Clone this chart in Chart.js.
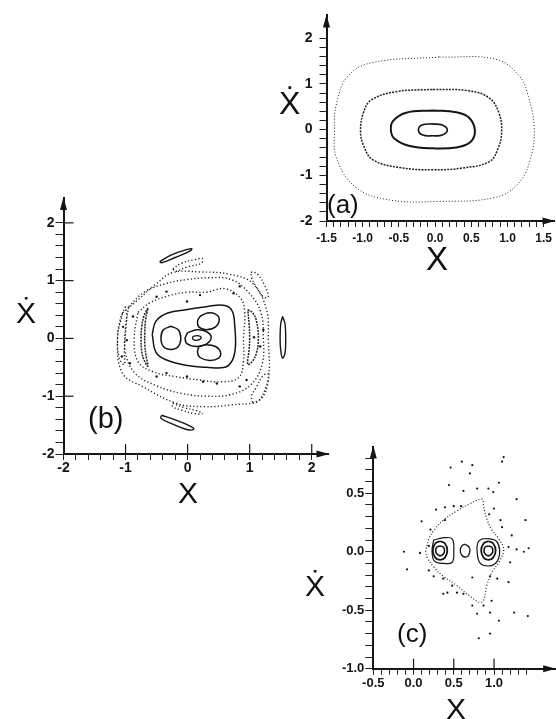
<!DOCTYPE html>
<html>
<head>
<meta charset="utf-8">
<script src="https://cdn.jsdelivr.net/npm/chart.js@4.4.1/dist/chart.umd.min.js"></script>
<style>
  html, body { margin: 0; padding: 0; background: #fff; }
  body { width: 556px; height: 719px; position: relative; overflow: hidden; font-family: "Liberation Sans", Arial, sans-serif; color: #111; }
  canvas { position: absolute; }
  .lbl { position: absolute; line-height: 1; white-space: nowrap; }
</style>
</head>
<body>
<canvas id="chartA" width="280" height="250" style="left:276px;top:0px"></canvas>
<canvas id="chartB" width="340" height="310" style="left:0px;top:180px"></canvas>
<canvas id="chartC" width="266" height="289" style="left:290px;top:430px"></canvas>

<div class="lbl" style="left:327px;top:191px;font-size:26px">(a)</div>
<div class="lbl" style="left:279px;top:87px;font-size:32px">Ẋ</div>
<div class="lbl" style="left:426px;top:242px;font-size:33px">X</div>

<div class="lbl" style="left:88px;top:404px;font-size:29px">(b)</div>
<div class="lbl" style="left:16px;top:298px;font-size:30px">Ẋ</div>
<div class="lbl" style="left:178px;top:478px;font-size:30px">X</div>

<div class="lbl" style="left:397px;top:620px;font-size:26px">(c)</div>
<div class="lbl" style="left:305px;top:571px;font-size:30px">Ẋ</div>
<div class="lbl" style="left:446px;top:694px;font-size:30px">X</div>

<script>
// ---- panel (a): tick labels ----
const aXTicks = [-1.5, -1.0, -0.5, 0.0, 0.5, 1.0, 1.5];
const aXLabels = ['-1.5', '-1.0', '-0.5', '0.0', '0.5', '1.0', '1.5'];
const aYTicks = [-2, -1, 0, 1, 2];
const aYLabels = ['-2', '-1', '0', '1', '2'];

// panel (a) orbits
const aOrbit1 = [[-0.03,0.125],[0.10,0.10],[0.17,-0.01],[0.10,-0.12],[-0.03,-0.135],[-0.17,-0.12],[-0.23,-0.01],[-0.18,0.10],[-0.03,0.125]];
const aOrbit2 = [[-0.03,0.42],[0.29,0.38],[0.47,0.26],[0.55,-0.02],[0.49,-0.27],[0.29,-0.39],[-0.03,-0.41],[-0.35,-0.36],[-0.56,-0.20],[-0.61,-0.02],[-0.58,0.19],[-0.40,0.37],[-0.03,0.42]];
const aOrbit3 = [[-0.03,0.88],[0.47,0.85],[0.75,0.69],[0.88,0.37],[0.92,-0.02],[0.87,-0.41],[0.75,-0.70],[0.38,-0.84],[-0.03,-0.88],[-0.49,-0.83],[-0.86,-0.66],[-0.99,-0.34],[-1.03,-0.02],[-0.99,0.37],[-0.88,0.65],[-0.54,0.83],[-0.03,0.88]];
const aOrbit4 = [[0.06,1.59],[0.84,1.54],[1.16,1.18],[1.29,0.72],[1.37,0.01],[1.32,-0.63],[1.16,-1.16],[0.84,-1.48],[0.06,-1.57],[-0.63,-1.54],[-1.09,-1.27],[-1.36,-0.63],[-1.39,0.01],[-1.36,0.58],[-1.20,1.18],[-0.86,1.47],[0.06,1.59]];

// ---- panel (b): tick labels ----
const bXTicks = [-2, -1, 0, 1, 2];
const bXLabels = ['-2', '-1', '0', '1', '2'];
const bYTicks = [-2, -1, 0, 1, 2];
const bYLabels = ['-2', '-1', '0', '1', '2'];

// panel (b) regular orbits
const bCore = [[-0.57,0.07],[-0.51,0.30],[-0.32,0.44],[0.0,0.50],[0.30,0.55],[0.60,0.57],[0.72,0.47],[0.76,0.20],[0.77,-0.15],[0.72,-0.38],[0.60,-0.50],[0.30,-0.50],[0.0,-0.47],[-0.35,-0.37],[-0.51,-0.24],[-0.57,0.07]];
const bIslandL = [[-0.27,0.21],[-0.15,0.15],[-0.11,0.01],[-0.15,-0.14],[-0.27,-0.19],[-0.39,-0.14],[-0.43,0.01],[-0.39,0.15],[-0.27,0.21]];
const bIslandU = [[0.20,0.38],[0.32,0.44],[0.45,0.42],[0.51,0.33],[0.45,0.20],[0.30,0.15],[0.18,0.20],[0.16,0.30],[0.20,0.38]];
const bIslandD = [[0.18,-0.14],[0.30,-0.11],[0.45,-0.14],[0.53,-0.24],[0.50,-0.34],[0.35,-0.38],[0.20,-0.33],[0.16,-0.24],[0.18,-0.14]];
const bLoop = [[0.0,0.10],[0.15,0.15],[0.30,0.12],[0.38,0.02],[0.30,-0.10],[0.15,-0.14],[0.0,-0.10],[-0.04,0.0],[0.0,0.10]];
const bInner = [[0.08,0.03],[0.15,0.05],[0.22,0.02],[0.16,-0.03],[0.09,-0.02],[0.08,0.03]];
const bCresL = [[-0.64,0.53],[-0.70,0.40],[-0.74,0.20],[-0.75,0.0],[-0.74,-0.22],[-0.70,-0.38],[-0.64,-0.48],[-0.67,-0.30],[-0.69,-0.10],[-0.69,0.10],[-0.68,0.30],[-0.64,0.53]];
const bCresR = [[0.97,0.50],[1.05,0.44],[1.11,0.30],[1.14,0.0],[1.11,-0.25],[1.04,-0.40],[0.97,-0.45],[0.99,-0.20],[1.0,0.0],[0.99,0.25],[0.97,0.50]];
const bOutT = [[-0.45,1.33],[-0.25,1.45],[0.0,1.54],[0.07,1.55],[0.02,1.50],[-0.20,1.40],[-0.42,1.31],[-0.45,1.33]];
const bOutR = [[1.53,0.38],[1.57,0.25],[1.58,0.0],[1.57,-0.25],[1.53,-0.34],[1.50,-0.20],[1.49,0.0],[1.50,0.25],[1.53,0.38]];
const bOutB = [[-0.42,-1.33],[-0.20,-1.41],[0.05,-1.52],[0.10,-1.57],[0.0,-1.58],[-0.25,-1.48],[-0.43,-1.38],[-0.42,-1.33]];

// panel (b) chaotic dotted layers
const bRing1 = [[-0.80,0.45],[-0.60,0.62],[-0.30,0.74],[0.0,0.80],[0.30,0.80],[0.60,0.86],[0.85,0.70],[0.92,0.45],[0.90,0.0],[0.90,-0.40],[0.82,-0.68],[0.55,-0.75],[0.20,-0.72],[-0.20,-0.66],[-0.55,-0.58],[-0.80,-0.40],[-0.86,0.0],[-0.80,0.45]];
const bRing2 = [[-0.95,0.55],[-0.70,0.80],[-0.35,0.95],[0.0,1.02],[0.35,1.05],[0.70,1.02],[0.98,0.80],[1.18,0.45],[1.22,0.0],[1.20,-0.45],[1.02,-0.80],[0.70,-0.97],[0.30,-1.0],[-0.10,-0.95],[-0.50,-0.82],[-0.85,-0.60],[-1.0,-0.25],[-1.0,0.20],[-0.95,0.55]];
const bRing3 = [[-1.05,0.44],[-0.83,0.64],[-0.50,0.95],[-0.24,1.14],[0.20,1.15],[0.68,1.11],[1.05,0.95],[1.27,0.50],[1.30,0.0],[1.30,-0.71],[1.16,-1.06],[0.70,-1.15],[0.24,-1.18],[-0.19,-1.12],[-0.73,-0.83],[-1.05,-0.60],[-1.13,-0.02],[-1.05,0.44]];
const bChainT = [[-0.24,1.20],[-0.10,1.30],[0.10,1.36],[0.24,1.38],[0.22,1.30],[0.0,1.24],[-0.20,1.16],[-0.24,1.20]];
const bChainUR = [[1.02,1.15],[1.12,1.12],[1.24,0.92],[1.30,0.72],[1.22,0.72],[1.10,0.90],[1.03,1.05],[1.02,1.15]];
const bChainLR = [[1.05,-1.12],[1.15,-1.08],[1.27,-0.82],[1.30,-0.62],[1.22,-0.64],[1.10,-0.86],[1.03,-1.0],[1.05,-1.12]];
const bChainB = [[-0.24,-1.12],[-0.05,-1.20],[0.15,-1.25],[0.24,-1.30],[0.10,-1.30],[-0.10,-1.24],[-0.24,-1.18],[-0.24,-1.12]];
const bChainL = [[-1.0,0.55],[-1.08,0.35],[-1.13,0.0],[-1.10,-0.35],[-1.02,-0.45],[-1.02,-0.20],[-1.0,0.10],[-0.98,0.40],[-1.0,0.55]];
const bDots = [[1.07,0.02],[-1.04,0.20],[-0.98,-0.03],[-1.06,-0.31],[-0.93,-0.43],[-0.50,0.72],[-0.34,0.81],[-0.01,0.64],[0.20,0.75],[0.74,0.78],[0.84,0.90],[0.95,-0.72],[0.84,-0.83],[-0.01,-0.66],[-0.34,-0.60],[-0.50,-0.66],[0.47,-0.78],[0.25,-0.75],[-0.88,0.38],[1.17,-0.14],[1.22,0.15]];

// ---- panel (c): tick labels ----
const cXTicks = [-0.5, 0.0, 0.5, 1.0];
const cXLabels = ['-0.5', '0.0', '0.5', '1.0'];
const cYTicks = [-1.0, -0.5, 0.0, 0.5];
const cYLabels = ['-1.0', '-0.5', '0.0', '0.5'];

// panel (c) orbits
const cSep = [[0.15,0.0],[0.19,0.11],[0.25,0.18],[0.37,0.27],[0.54,0.35],[0.70,0.41],[0.85,0.45],[0.87,0.39],[0.91,0.28],[0.97,0.19],[1.06,0.11],[1.12,0.02],[1.06,-0.09],[0.97,-0.18],[0.91,-0.29],[0.85,-0.43],[0.70,-0.38],[0.54,-0.29],[0.37,-0.21],[0.25,-0.13],[0.17,-0.05],[0.15,0.0]];
const cBoxL = [[0.25,0.10],[0.38,0.12],[0.48,0.11],[0.50,0.0],[0.48,-0.09],[0.38,-0.10],[0.26,-0.08],[0.23,0.01],[0.25,0.10]];
const cRingL1 = [[0.33,0.09],[0.39,0.07],[0.42,0.01],[0.39,-0.05],[0.33,-0.07],[0.27,-0.05],[0.24,0.01],[0.27,0.07],[0.33,0.09]];
const cRingL2 = [[0.33,0.05],[0.37,0.04],[0.385,0.01],[0.37,-0.02],[0.33,-0.035],[0.29,-0.02],[0.275,0.01],[0.29,0.04],[0.33,0.05]];
const cMid = [[0.64,0.065],[0.69,0.04],[0.70,0.01],[0.68,-0.035],[0.64,-0.045],[0.60,-0.03],[0.58,0.01],[0.60,0.05],[0.64,0.065]];
const cBoxR = [[0.85,0.11],[0.95,0.11],[1.03,0.09],[1.07,0.01],[1.04,-0.08],[0.95,-0.12],[0.83,-0.10],[0.79,0.0],[0.80,0.08],[0.85,0.11]];
const cRingR1 = [[0.93,0.09],[0.99,0.07],[1.02,0.01],[0.99,-0.05],[0.93,-0.07],[0.87,-0.05],[0.84,0.01],[0.87,0.07],[0.93,0.09]];
const cRingR2 = [[0.93,0.05],[0.97,0.04],[0.985,0.01],[0.97,-0.02],[0.93,-0.035],[0.89,-0.02],[0.875,0.01],[0.89,0.04],[0.93,0.05]];
const cDots = [[0.46,0.72],[0.60,0.77],[0.73,0.74],[1.10,0.77],[1.12,0.81],[0.70,0.67],[0.44,0.57],[0.79,0.54],[0.93,0.54],[0.99,0.51],[1.06,0.59],[0.62,0.52],[0.28,0.36],[0.39,0.38],[0.50,0.39],[0.59,0.39],[0.10,0.26],[0.21,0.19],[0.39,0.27],[0.94,0.32],[1.0,0.37],[1.08,0.27],[1.28,0.45],[1.39,0.27],[1.10,0.21],[1.22,0.14],[-0.12,0.0],[0.08,-0.01],[0.19,0.05],[1.18,0.04],[1.28,0.02],[1.37,0.0],[1.43,0.03],[-0.08,-0.15],[0.19,-0.16],[0.25,-0.21],[0.37,-0.23],[0.48,-0.29],[0.42,-0.35],[0.62,-0.36],[0.73,-0.22],[0.95,-0.21],[1.04,-0.23],[1.18,-0.26],[1.20,-0.09],[0.97,-0.42],[0.87,-0.46],[0.73,-0.46],[0.79,-0.53],[0.95,-0.52],[1.06,-0.59],[1.25,-0.52],[1.42,-0.55],[0.81,-0.74],[0.95,-0.70],[0.37,-0.36],[0.54,-0.35]];

const INK = '#151515';
const pts = arr => arr.map(([x, y]) => ({ x, y }));

function solid(arr, w) {
  return { data: pts(arr), showLine: true, borderColor: INK, borderWidth: w || 1.6, pointRadius: 0, tension: 0.4, fill: false };
}
function dotted(arr, w, dash) {
  return { data: pts(arr), showLine: true, borderColor: '#222', borderWidth: w || 1.4, borderDash: dash || [1.2, 2.3], pointRadius: 0, tension: 0.4, fill: false };
}
function dots(arr, r) {
  return { data: pts(arr), showLine: false, pointRadius: r || 1.1, pointBorderWidth: 0, pointBackgroundColor: INK };
}

function labelFor(values, labels) {
  return v => {
    for (let i = 0; i < values.length; i++) {
      if (Math.abs(v - values[i]) < 1e-6) return labels[i];
    }
    return '';
  };
}

function scale(o) {
  return {
    type: 'linear',
    min: o.min,
    max: o.max,
    afterBuildTicks: s => { s.ticks = s.ticks.filter(t => t.value >= o.lo - 1e-6 && t.value <= o.hi + 1e-6); },
    afterFit: s => { if (o.height !== undefined) s.height = o.height; if (o.width !== undefined) s.width = o.width; },
    ticks: {
      stepSize: o.step,
      includeBounds: false,
      autoSkip: false,
      maxRotation: 0,
      minRotation: 0,
      maxTicksLimit: 1000,
      padding: o.pad,
      color: INK,
      font: { family: '"Liberation Sans", Arial, sans-serif', size: o.size, weight: 'bold' },
      callback: labelFor(o.values, o.labels)
    },
    grid: { display: true, drawOnChartArea: false, drawTicks: true, tickLength: o.tick, color: '#222', lineWidth: 1 },
    border: { display: true, color: INK, width: 2 }
  };
}

const axisArrows = {
  id: 'axisArrows',
  afterDraw(chart, args, opts) {
    const { ctx, chartArea: a } = chart;
    ctx.save();
    ctx.fillStyle = INK;
    ctx.strokeStyle = INK;
    ctx.beginPath();
    ctx.moveTo(a.right + 1, a.bottom);
    ctx.lineTo(a.right - 12, a.bottom - 3.5);
    ctx.lineTo(a.right - 12, a.bottom + 3.5);
    ctx.closePath();
    ctx.fill();
    ctx.beginPath();
    ctx.moveTo(a.left, a.top - 1);
    ctx.lineTo(a.left - 3.5, a.top + 12);
    ctx.lineTo(a.left + 3.5, a.top + 12);
    ctx.closePath();
    ctx.fill();
    ctx.lineWidth = 1.2;
    (opts.xMajor || []).forEach(v => {
      const px = chart.scales.x.getPixelForValue(v);
      ctx.beginPath(); ctx.moveTo(px, a.bottom); ctx.lineTo(px, a.bottom - opts.len); ctx.stroke();
    });
    (opts.yMajor || []).forEach(v => {
      const py = chart.scales.y.getPixelForValue(v);
      ctx.beginPath(); ctx.moveTo(a.left, py); ctx.lineTo(a.left + opts.len, py); ctx.stroke();
    });
    ctx.restore();
  }
};

function makeChart(id, datasets, xs, ys, padding, arrows) {
  return new Chart(document.getElementById(id).getContext('2d'), {
    type: 'scatter',
    data: { datasets: datasets },
    options: {
      responsive: false,
      animation: false,
      devicePixelRatio: 1,
      layout: { padding: padding, autoPadding: false },
      plugins: { legend: { display: false }, tooltip: { enabled: false }, axisArrows: arrows },
      scales: { x: xs, y: ys }
    },
    plugins: [axisArrows]
  });
}

makeChart('chartA',
  [solid(aOrbit1, 1.6), solid(aOrbit2, 2), dotted(aOrbit3, 1.5, [2, 1.2]), dotted(aOrbit4, 1, [1, 2])],
  scale({ min: -1.5, max: 1.65, lo: -1.5, hi: 1.5, step: 0.1, values: aXTicks, labels: aXLabels, size: 12, pad: 4, tick: 6, height: 29 }),
  scale({ min: -2, max: 2.5, lo: -2, hi: 2, step: 0.2, values: aYTicks, labels: aYLabels, size: 14, pad: 7, tick: 7, width: 50.5 }),
  { left: 0, right: 0, top: 10, bottom: 0 },
  { len: 0 });

makeChart('chartB',
  [solid(bCore, 1.5), solid(bIslandL, 1.5), solid(bIslandU, 1.5), solid(bIslandD, 1.5), solid(bLoop, 1.5), solid(bInner, 1.3),
   dotted(bCresL, 1.5, [2, 1]), dotted(bCresR, 1.5, [2, 1]), solid(bOutT, 1.4), solid(bOutR, 1.4), solid(bOutB, 1.4),
   dotted(bRing1), dotted(bRing2), dotted(bRing3), dotted(bChainT), dotted(bChainUR), dotted(bChainLR), dotted(bChainB), dotted(bChainL),
   dots(bDots, 1.2)],
  scale({ min: -2, max: 2.27, lo: -2, hi: 2, step: 0.2, values: bXTicks, labels: bXLabels, size: 14, pad: 0, tick: 6, height: 36 }),
  scale({ min: -2, max: 2.43, lo: -2, hi: 2, step: 0.2, values: bYTicks, labels: bYLabels, size: 14, pad: 1, tick: 8, width: 63.5 }),
  { left: 0, right: 11.5, top: 18, bottom: 0 },
  { xMajor: [-1, 0, 1, 2], yMajor: [-1, 0, 1, 2], len: 10 });

makeChart('chartC',
  [dotted(cSep, 1.2, [1, 2]), solid(cBoxL, 1.2), solid(cRingL1, 1.8), solid(cRingL2, 1.6), solid(cMid, 1.3),
   solid(cBoxR, 1.2), solid(cRingR1, 1.8), solid(cRingR2, 1.6), dots(cDots, 1.1)],
  scale({ min: -0.5, max: 1.76, lo: -0.5, hi: 1.4, step: 0.1, values: cXTicks, labels: cXLabels, size: 13, pad: 1, tick: 6, height: 50.3 }),
  scale({ min: -1, max: 0.9, lo: -1, hi: 0.8, step: 0.1, values: cYTicks, labels: cYLabels, size: 13, pad: 1, tick: 8, width: 83.3 }),
  { left: 0, right: 0.8, top: 16.5, bottom: 0 },
  { xMajor: [0, 0.5, 1.0], len: 10 });
</script>
</body>
</html>
